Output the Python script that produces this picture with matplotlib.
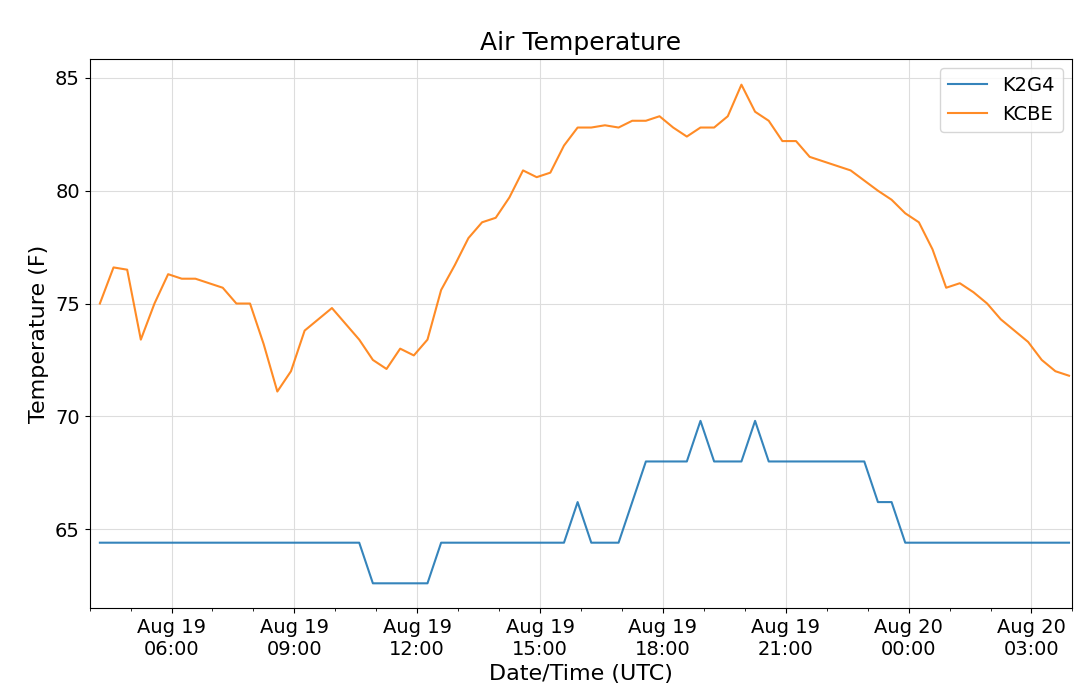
import matplotlib
matplotlib.use("Agg")
import matplotlib.pyplot as plt
import matplotlib.dates as mdates
import pandas as pd

# observation times: 20-minute steps starting Aug 19 04:15 UTC
start = pd.Timestamp("2019-08-19 04:15")
step = pd.Timedelta(minutes=20)

k2g4_idx = list(range(72))
k2g4_temp = (
    [64.4] * 20 + [62.6] * 5 + [64.4] * 10 + [66.2] + [64.4] * 3 + [66.2]
    + [68.0] * 4 + [69.8] + [68.0] * 3 + [69.8] + [68.0] * 8 + [66.2] * 2 + [64.4] * 13
)

kcbe_idx = [0, 1, 2, 3, 4, 5, 6, 7, 9, 10, 11, 12, 13, 14, 15, 17, 19, 20, 21, 22, 23, 24] \
    + list(range(25, 53)) + [55] + list(range(57, 72))
kcbe_temp = [
    75.0, 76.6, 76.5, 73.4, 75.0, 76.3, 76.1, 76.1, 75.7, 75.0, 75.0, 73.2, 71.1, 72.0,
    73.8, 74.8, 73.4, 72.5, 72.1, 73.0, 72.7, 73.4,
    75.6, 76.7, 77.9, 78.6, 78.8, 79.7, 80.9, 80.6, 80.8, 82.0, 82.8, 82.8, 82.9, 82.8,
    83.1, 83.1, 83.3, 82.8, 82.4, 82.8, 82.8, 83.3, 84.7, 83.5, 83.1, 82.2, 82.2, 81.5,
    80.9,
    80.0, 79.6, 79.0, 78.6, 77.4, 75.7, 75.9, 75.5, 75.0, 74.3, 73.8, 73.3, 72.5, 72.0, 71.8,
]

k2g4_time = [start + i * step for i in k2g4_idx]
kcbe_time = [start + i * step for i in kcbe_idx]

fig = plt.figure(figsize=(10.8, 6.99), dpi=100)
ax = fig.add_axes([0.083, 0.130, 0.910, 0.786])
ax.plot(k2g4_time, k2g4_temp, color="tab:blue", lw=1.5, alpha=0.9, label="K2G4")
ax.plot(kcbe_time, kcbe_temp, color="tab:orange", lw=1.5, alpha=0.9, label="KCBE")

ax.set_xlim(pd.Timestamp("2019-08-19 04:00"), pd.Timestamp("2019-08-20 04:00"))
ax.set_ylim(61.5, 85.85)
ax.set_yticks([65, 70, 75, 80, 85])
ax.xaxis.set_major_locator(mdates.HourLocator(byhour=[0, 3, 6, 9, 12, 15, 18, 21]))
ax.xaxis.set_major_formatter(mdates.DateFormatter("%b %d\n%H:%M"))
ax.xaxis.set_minor_locator(mdates.HourLocator())
ax.tick_params(labelsize=14)
ax.grid(True, color="#dddddd", lw=0.8)
ax.set_title("Air Temperature", fontsize=18)
ax.set_xlabel("Date/Time (UTC)", fontsize=16)
ax.set_ylabel("Temperature (F)", fontsize=16)
ax.legend(loc="upper right", fontsize=14)

fig.savefig("out.png", dpi=100)
